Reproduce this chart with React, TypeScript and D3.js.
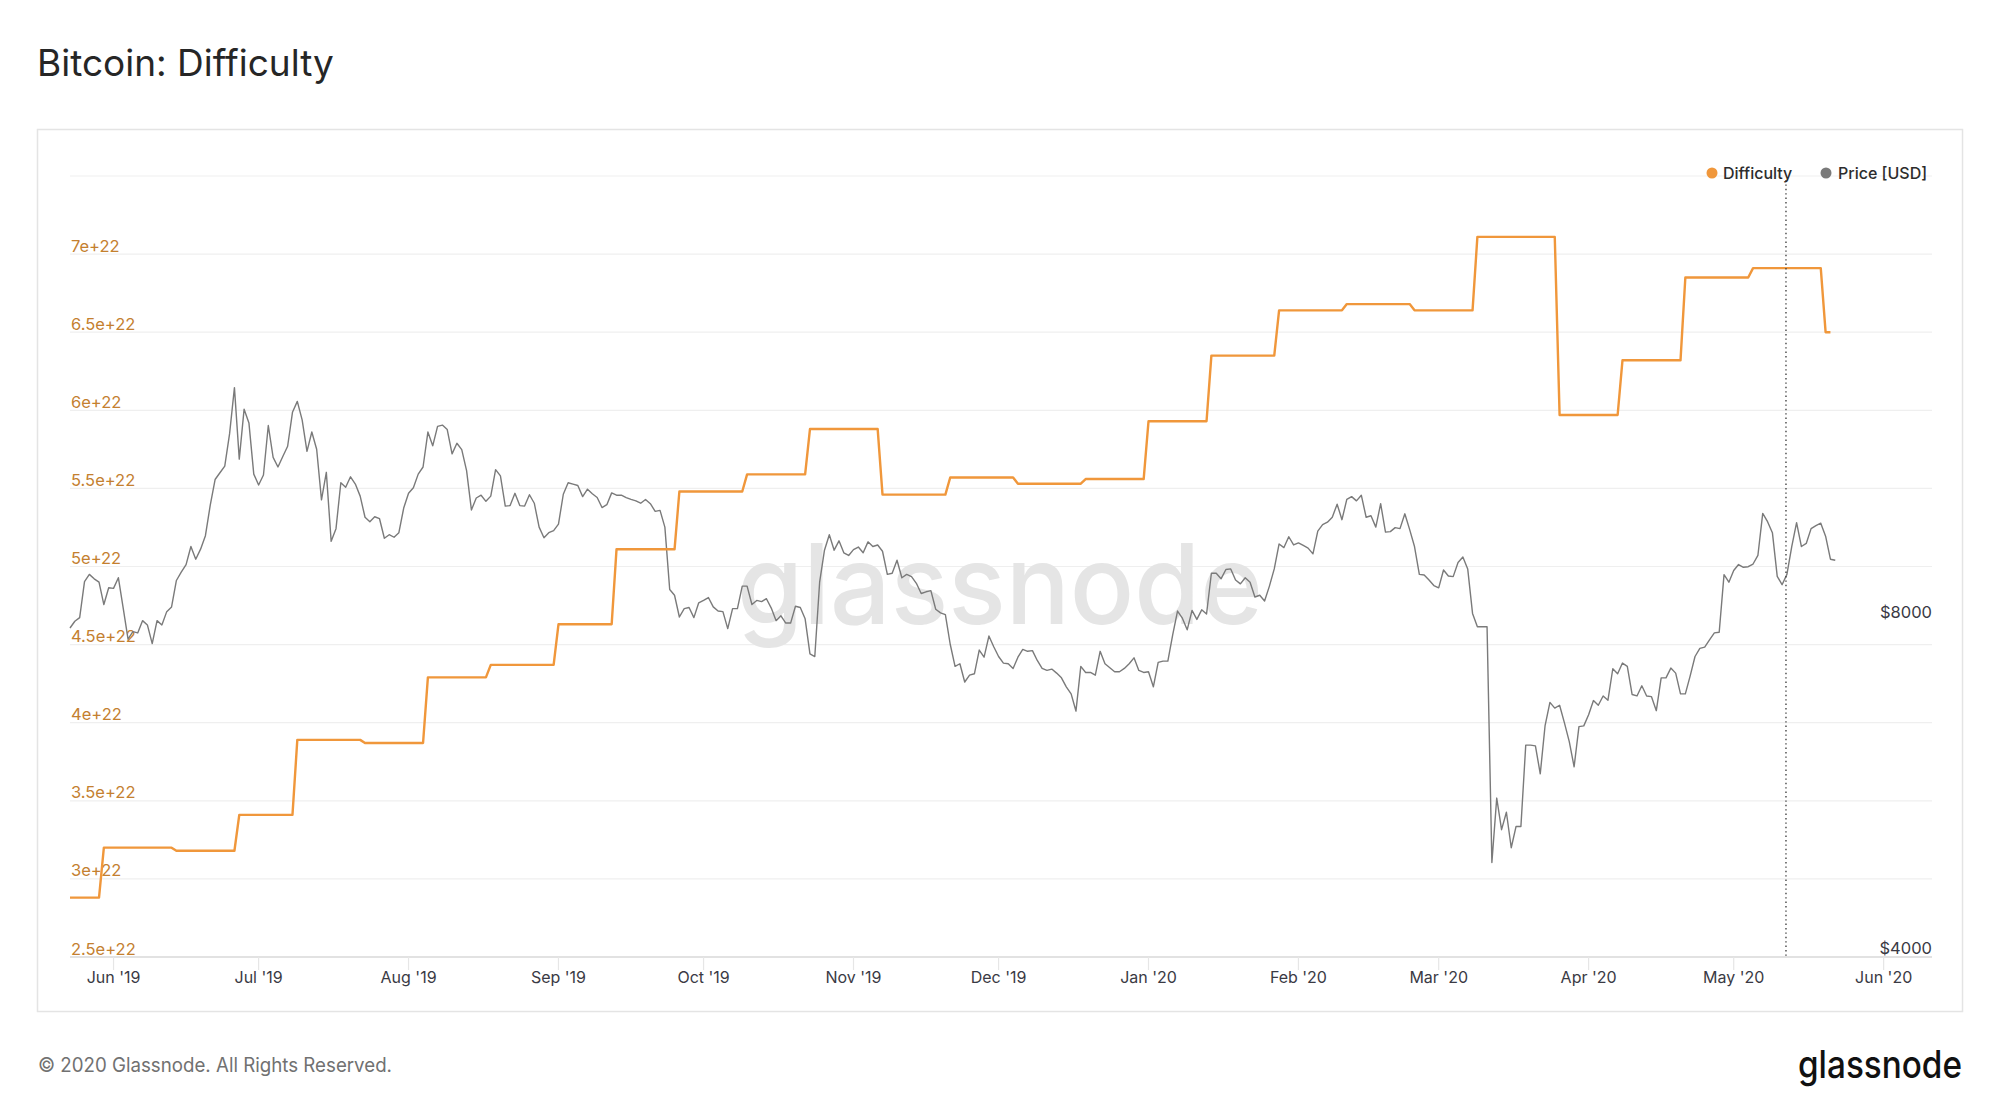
import React from 'react';
import * as d3 from 'd3';

// ---------- data ----------
const priceStart = '2019-05-23';
const priceMay2019 = [7880, 7990, 8050, 8670, 8800, 8720, 8660, 8270, 8560];
const priceJun2019 = [8550, 8740, 8210, 7700, 7820, 7800, 8000, 7930, 7630, 8000, 7930, 8150, 8230, 8690, 8840, 8980, 9320, 9080, 9270, 9530, 10150, 10700, 10850, 11000, 11760, 12930, 11160, 12370, 12020, 10820];
const priceJul2019 = [10580, 10800, 11960, 11200, 10980, 11220, 11460, 12290, 12570, 12100, 11340, 11800, 11390, 10260, 10860, 9420, 9670, 10630, 10530, 10760, 10600, 10340, 9900, 9810, 9910, 9870, 9480, 9550, 9500, 9590, 10090];
const priceAug2019 = [10400, 10520, 10820, 10980, 11800, 11470, 11940, 11970, 11860, 11280, 11530, 11380, 10900, 10050, 10300, 10360, 10230, 10340, 10920, 10780, 10130, 10140, 10400, 10140, 10130, 10370, 10190, 9700, 9490, 9590, 9630];
const priceSep2019 = [9760, 10380, 10630, 10600, 10570, 10330, 10490, 10390, 10310, 10100, 10160, 10410, 10360, 10360, 10310, 10270, 10240, 10190, 10270, 10180, 10020, 10040, 9700, 8530, 8430, 8060, 8200, 8220, 8050, 8300];
const priceOct2019 = [8340, 8390, 8230, 8160, 8150, 7870, 8200, 8200, 8590, 8590, 8270, 8340, 8320, 8370, 8210, 8000, 8080, 7960, 7960, 8240, 8220, 8030, 7470, 7430, 8660, 9250, 9550, 9250, 9430, 9200, 9150];
const priceNov2019 = [9260, 9310, 9200, 9410, 9320, 9350, 9230, 8800, 8820, 9060, 8740, 8800, 8760, 8640, 8460, 8490, 8510, 8190, 8130, 8100, 7620, 7280, 7320, 7050, 7150, 7170, 7530, 7420, 7750, 7580];
const priceDec2019 = [7430, 7330, 7320, 7250, 7420, 7540, 7510, 7520, 7370, 7250, 7220, 7240, 7180, 7110, 6980, 6880, 6640, 7280, 7190, 7190, 7150, 7510, 7320, 7260, 7200, 7200, 7250, 7320, 7410, 7220, 7190];
const priceJan2020 = [7200, 6980, 7340, 7360, 7360, 7770, 8160, 8040, 7850, 8170, 8020, 8180, 8110, 8820, 8820, 8720, 8890, 8900, 8700, 8630, 8740, 8660, 8400, 8430, 8330, 8590, 8900, 9370, 9300, 9510, 9350];
const priceFeb2020 = [9390, 9340, 9290, 9180, 9620, 9750, 9800, 9900, 10170, 9850, 10270, 10330, 10240, 10360, 9900, 9930, 9700, 10180, 9600, 9610, 9690, 9670, 9970, 9650, 9320, 8800, 8790, 8700, 8600];
const priceMar2020 = [8560, 8880, 8770, 8760, 9020, 9120, 8900, 8120, 7900, 7900, 7900, 4860, 5550, 5200, 5390, 5010, 5235, 5235, 6190, 6190, 6180, 5835, 6445, 6760, 6680, 6720, 6480, 6235, 5920, 6430, 6440];
const priceApr2020 = [6590, 6785, 6720, 6850, 6790, 7245, 7170, 7330, 7280, 6870, 6850, 6995, 6850, 6840, 6645, 7110, 7110, 7255, 7180, 6880, 6880, 7140, 7430, 7555, 7575, 7690, 7800, 7810, 8795, 8660];
const priceMay2020 = [8870, 8980, 8930, 8940, 8990, 9150, 9980, 9810, 9590, 8765, 8615, 8800, 9320, 9790, 9320, 9380, 9670, 9730, 9780, 9520, 9080, 9060];

const priceValues = [
  ...priceMay2019, ...priceJun2019, ...priceJul2019, ...priceAug2019, ...priceSep2019,
  ...priceOct2019, ...priceNov2019, ...priceDec2019, ...priceJan2020, ...priceFeb2020,
  ...priceMar2020, ...priceApr2020, ...priceMay2020,
];

// difficulty epochs (value in units of 1e22)
const diffEpochStart = ['2019-05-23', '2019-05-30', '2019-06-14', '2019-06-27', '2019-07-09', '2019-07-23', '2019-08-05', '2019-08-18', '2019-09-01', '2019-09-13', '2019-09-26', '2019-10-10', '2019-10-23', '2019-11-07', '2019-11-21', '2019-12-05', '2019-12-19', '2020-01-01', '2020-01-14', '2020-01-28', '2020-02-11', '2020-02-25', '2020-03-09', '2020-03-26', '2020-04-08', '2020-04-21', '2020-05-05', '2020-05-20'];
const diffEpochValue = [2.88, 3.2, 3.18, 3.41, 3.89, 3.87, 4.29, 4.37, 4.63, 5.11, 5.48, 5.59, 5.88, 5.46, 5.57, 5.53, 5.56, 5.93, 6.35, 6.64, 6.68, 6.64, 7.11, 5.97, 6.32, 6.85, 6.91, 6.5];
const diffLastDate = '2020-05-21';

const diffTicks = [2.5, 3, 3.5, 4, 4.5, 5, 5.5, 6, 6.5, 7, 7.5];
const diffTickLabels = ['2.5e+22', '3e+22', '3.5e+22', '4e+22', '4.5e+22', '5e+22', '5.5e+22', '6e+22', '6.5e+22', '7e+22', ''];
const priceTicks = [4000, 8000];
const priceTickLabels = ['$4000', '$8000'];
const xDomain = ['2019-05-23', '2020-06-11'];
const halvingDate = '2020-05-11T19:23:00Z';

// ---------- style ----------
const FONT = "Inter, 'Noto Sans', 'DejaVu Sans', sans-serif";
const ORANGE = '#f0973b';
const ORANGE_TEXT = '#c4802f';
const GREY_LINE = '#7a7a7a';

const W = 2000;
const H = 1120;
const P = { left: 70, right: 1932, top: 176, bottom: 957 };

const parse = (s: string) => new Date(s.length > 10 ? s : s + 'T00:00:00Z');

export default function App() {
  const x = d3.scaleUtc().domain(xDomain.map(parse)).range([P.left, P.right]);
  const yD = d3.scaleLinear().domain([2.5, 7.5]).range([P.bottom, P.top]);
  const yP = d3.scaleLog().domain([4000, 20000]).range([P.bottom, P.top]);

  const start = parse(priceStart);
  const pricePts: [Date, number][] = priceValues.map((v, i) => [d3.utcDay.offset(start, i), v]);

  const diffPts: [Date, number][] = [];
  diffEpochStart.forEach((s, i) => {
    const a = parse(s);
    const b = i < diffEpochStart.length - 1 ? d3.utcDay.offset(parse(diffEpochStart[i + 1]), -1) : parse(diffLastDate);
    diffPts.push([a, diffEpochValue[i]]);
    if (+b > +a) diffPts.push([b, diffEpochValue[i]]);
  });

  const priceLine = d3.line<[Date, number]>().x(d => x(d[0])).y(d => yP(d[1]))(pricePts) || '';
  const diffLine = d3.line<[Date, number]>().x(d => x(d[0])).y(d => yD(d[1]))(diffPts) || '';

  const months = d3.utcMonth.range(parse('2019-06-01'), parse('2020-06-02'));
  const fmt = d3.utcFormat("%b '%y");
  const hx = x(parse(halvingDate));

  return (
    <svg width={W} height={H} style={{ position: 'absolute', left: 0, top: 0, background: '#fff' }} fontFamily={FONT}>
      <rect x={0} y={0} width={W} height={H} fill="#fff" />
      <text x={37} y={76} fontSize={37} fill="#262626">Bitcoin: Difficulty</text>
      <rect x={37.5} y={129.5} width={1925} height={882} fill="none" stroke="#e4e4e4" strokeWidth={1.5} />

      {diffTicks.map((t, i) => (
        <line key={'g' + i} x1={P.left} x2={P.right} y1={yD(t)} y2={yD(t)} stroke={i === 0 ? '#e2e2e2' : '#efefef'} strokeWidth={i === 0 ? 1.8 : 1.2} />
      ))}
      {months.map((m, i) => (
        <g key={'m' + i}>
          <line x1={x(m)} x2={x(m)} y1={P.bottom} y2={P.bottom + 13} stroke="#e6e6e6" strokeWidth={1.2} />
          <text x={x(m)} y={983} fontSize={16} textAnchor="middle" fill="#3a3a44">{fmt(m)}</text>
        </g>
      ))}

      <text x={1000} y={624} fontSize={111} fontWeight={500} textAnchor="middle" fill="#e5e5e5" textLength={526} lengthAdjust="spacingAndGlyphs">glassnode</text>

      {diffTicks.map((t, i) => diffTickLabels[i] ? (
        <text key={'l' + i} x={P.left + 1} y={yD(t) - 2.5} fontSize={16.5} fill={ORANGE_TEXT}>{diffTickLabels[i]}</text>
      ) : null)}
      {priceTicks.map((t, i) => (
        <text key={'r' + i} x={P.right} y={yP(t) - 3} fontSize={16.5} textAnchor="end" fill="#3a3a44">{priceTickLabels[i]}</text>
      ))}

      <path d={priceLine} fill="none" stroke={GREY_LINE} strokeWidth={1.4} strokeLinejoin="round" />
      <path d={diffLine} fill="none" stroke={ORANGE} strokeWidth={2.4} strokeLinejoin="round" />

      <line x1={hx} x2={hx} y1={P.top + 4} y2={P.bottom} stroke="#444" strokeWidth={1.4} strokeDasharray="1.4 3" />

      <circle cx={1712} cy={173} r={5.5} fill={ORANGE} />
      <text x={1723} y={179} fontSize={16} fontWeight={500} fill="#2c2c2c">Difficulty</text>
      <circle cx={1826} cy={173} r={5.5} fill={GREY_LINE} />
      <text x={1838} y={179} fontSize={16} fontWeight={500} fill="#2c2c2c">Price [USD]</text>

      <text x={38} y={1072} fontSize={19.5} fill="#717171" textLength={354} lengthAdjust="spacingAndGlyphs">© 2020 Glassnode. All Rights Reserved.</text>
      <text x={1962} y={1078} fontSize={38} fontWeight={500} textAnchor="end" fill="#111" textLength={164} lengthAdjust="spacingAndGlyphs">glassnode</text>
    </svg>
  );
}
